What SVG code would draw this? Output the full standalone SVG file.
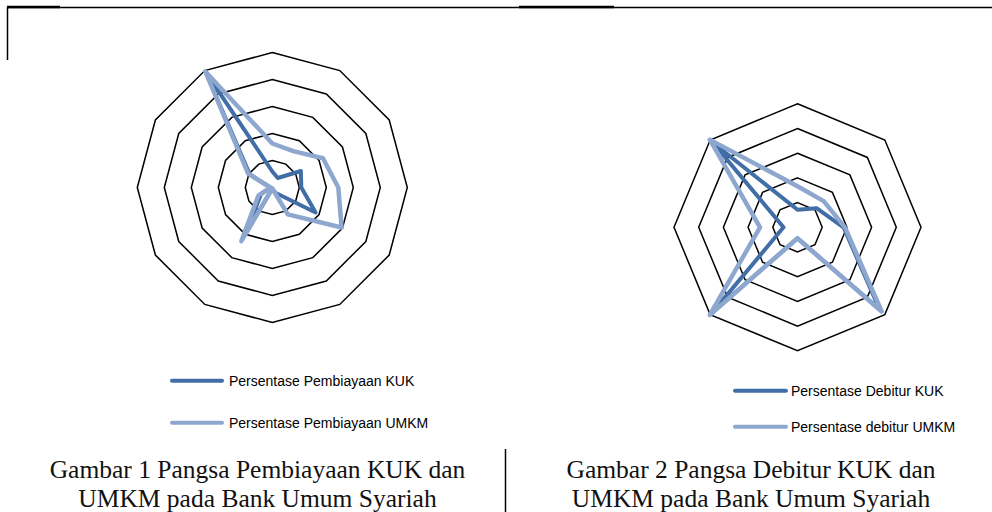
<svg xmlns="http://www.w3.org/2000/svg" width="992" height="512" viewBox="0 0 992 512">
<style>
.grid{fill:none;stroke:#000;stroke-width:1.5;stroke-linejoin:miter}
.kuk{fill:none;stroke:#416EA7;stroke-width:4;stroke-linejoin:round}
.umkm{fill:none;stroke:#8DA7CF;stroke-width:4.5;stroke-linejoin:round}
.lg{font-family:"Liberation Sans",Arial,sans-serif;font-size:14px;fill:#000}
.cap{font-family:"Liberation Serif","Times New Roman",serif;font-size:25.5px;fill:#111;text-anchor:middle}
.frame{stroke:#000;fill:none}
</style>
<rect width="992" height="512" fill="#fff"/>
<g id="frame">
<line class="frame" x1="7" y1="7.5" x2="992" y2="7.5" stroke-width="1.5"/>
<line class="frame" x1="7" y1="7" x2="60" y2="7" stroke-width="2.5"/>
<line class="frame" x1="519" y1="7" x2="614" y2="7" stroke-width="2.5"/>
<line class="frame" x1="7.5" y1="7" x2="7.5" y2="60" stroke-width="1.5"/>
<line class="frame" x1="505.5" y1="449" x2="505.5" y2="512" stroke-width="1.5"/>
</g>
<g id="chart1" transform="translate(272.3,187.5)">
<polygon class="grid" points="0,-135 67.5,-116.91 116.91,-67.5 135,0 116.91,67.5 67.5,116.91 0,135 -67.5,116.91 -116.91,67.5 -135,0 -116.91,-67.5 -67.5,-116.91"/>
<polygon class="grid" points="0,-108 54,-93.53 93.53,-54 108,0 93.53,54 54,93.53 0,108 -54,93.53 -93.53,54 -108,0 -93.53,-54 -54,-93.53"/>
<polygon class="grid" points="0,-81 40.5,-70.15 70.15,-40.5 81,0 70.15,40.5 40.5,70.15 0,81 -40.5,70.15 -70.15,40.5 -81,0 -70.15,-40.5 -40.5,-70.15"/>
<polygon class="grid" points="0,-54 27,-46.77 46.77,-27 54,0 46.77,27 27,46.77 0,54 -27,46.77 -46.77,27 -54,0 -46.77,-27 -27,-46.77"/>
<polygon class="grid" points="0,-27 13.5,-23.38 23.38,-13.5 27,0 23.38,13.5 13.5,23.38 0,27 -13.5,23.38 -23.38,13.5 -27,0 -23.38,-13.5 -13.5,-23.38"/>
<polygon class="kuk" points="0,-16 5.5,-9.53 28.58,-16.5 29,0 43.3,25 3,5.2 0,1 -27,46.77 -11.26,6.5 -2,0 -22.5,-13 -66.5,-115.18"/>
<polygon class="umkm" points="0,-44 21,-36.37 50.66,-29.25 66,0 69.28,40 15.5,26.85 0,1 -31,53.69 -13.86,8 -2,0 -24.25,-14 -67,-116.05"/>
</g>
<g id="legend1">
<line x1="172" y1="380.7" x2="222" y2="380.7" stroke="#416EA7" stroke-width="4" stroke-linecap="round"/>
<text class="lg" x="229" y="385.5">Persentase Pembiayaan KUK</text>
<line x1="172" y1="422.7" x2="222" y2="422.7" stroke="#8DA7CF" stroke-width="4" stroke-linecap="round"/>
<text class="lg" x="229" y="427.5">Persentase Pembiayaan UMKM</text>
</g>
<g id="chart2" transform="translate(797.5,227.3)">
<polygon class="grid" points="0,-123.5 87.33,-87.33 123.5,0 87.33,87.33 0,123.5 -87.33,87.33 -123.5,0 -87.33,-87.33"/>
<polygon class="grid" points="0,-98.8 69.86,-69.86 98.8,0 69.86,69.86 0,98.8 -69.86,69.86 -98.8,0 -69.86,-69.86"/>
<polygon class="grid" points="0,-74.1 52.4,-52.4 74.1,0 52.4,52.4 0,74.1 -52.4,52.4 -74.1,0 -52.4,-52.4"/>
<polygon class="grid" points="0,-49.4 34.93,-34.93 49.4,0 34.93,34.93 0,49.4 -34.93,34.93 -49.4,0 -34.93,-34.93"/>
<polygon class="grid" points="0,-24.7 17.47,-17.47 24.7,0 17.47,17.47 0,24.7 -17.47,17.47 -24.7,0 -17.47,-17.47"/>
<polygon class="kuk" points="0,-17.5 19.09,-19.09 46,0 82.02,82.02 0,11 -84.85,84.85 -14,0 -84.85,-84.85"/>
<polygon class="umkm" points="0,-41 26.16,-26.16 47.5,0 84.15,84.15 0,11 -87.68,87.68 -37.5,0 -87.68,-87.68"/>
</g>
<g id="legend2">
<line x1="735" y1="390.7" x2="786" y2="390.7" stroke="#416EA7" stroke-width="4" stroke-linecap="round"/>
<text class="lg" x="791" y="395.5">Persentase Debitur KUK</text>
<line x1="735" y1="426.7" x2="786" y2="426.7" stroke="#8DA7CF" stroke-width="4" stroke-linecap="round"/>
<text class="lg" x="791" y="431.5">Persentase debitur UMKM</text>
</g>
<g id="caption1">
<text class="cap" x="257.5" y="478">Gambar 1 Pangsa Pembiayaan KUK dan</text>
<text class="cap" x="257.5" y="507">UMKM pada Bank Umum Syariah</text>
</g>
<g id="caption2">
<text class="cap" x="751" y="478">Gambar 2 Pangsa Debitur KUK dan</text>
<text class="cap" x="751" y="507">UMKM pada Bank Umum Syariah</text>
</g>
</svg>
